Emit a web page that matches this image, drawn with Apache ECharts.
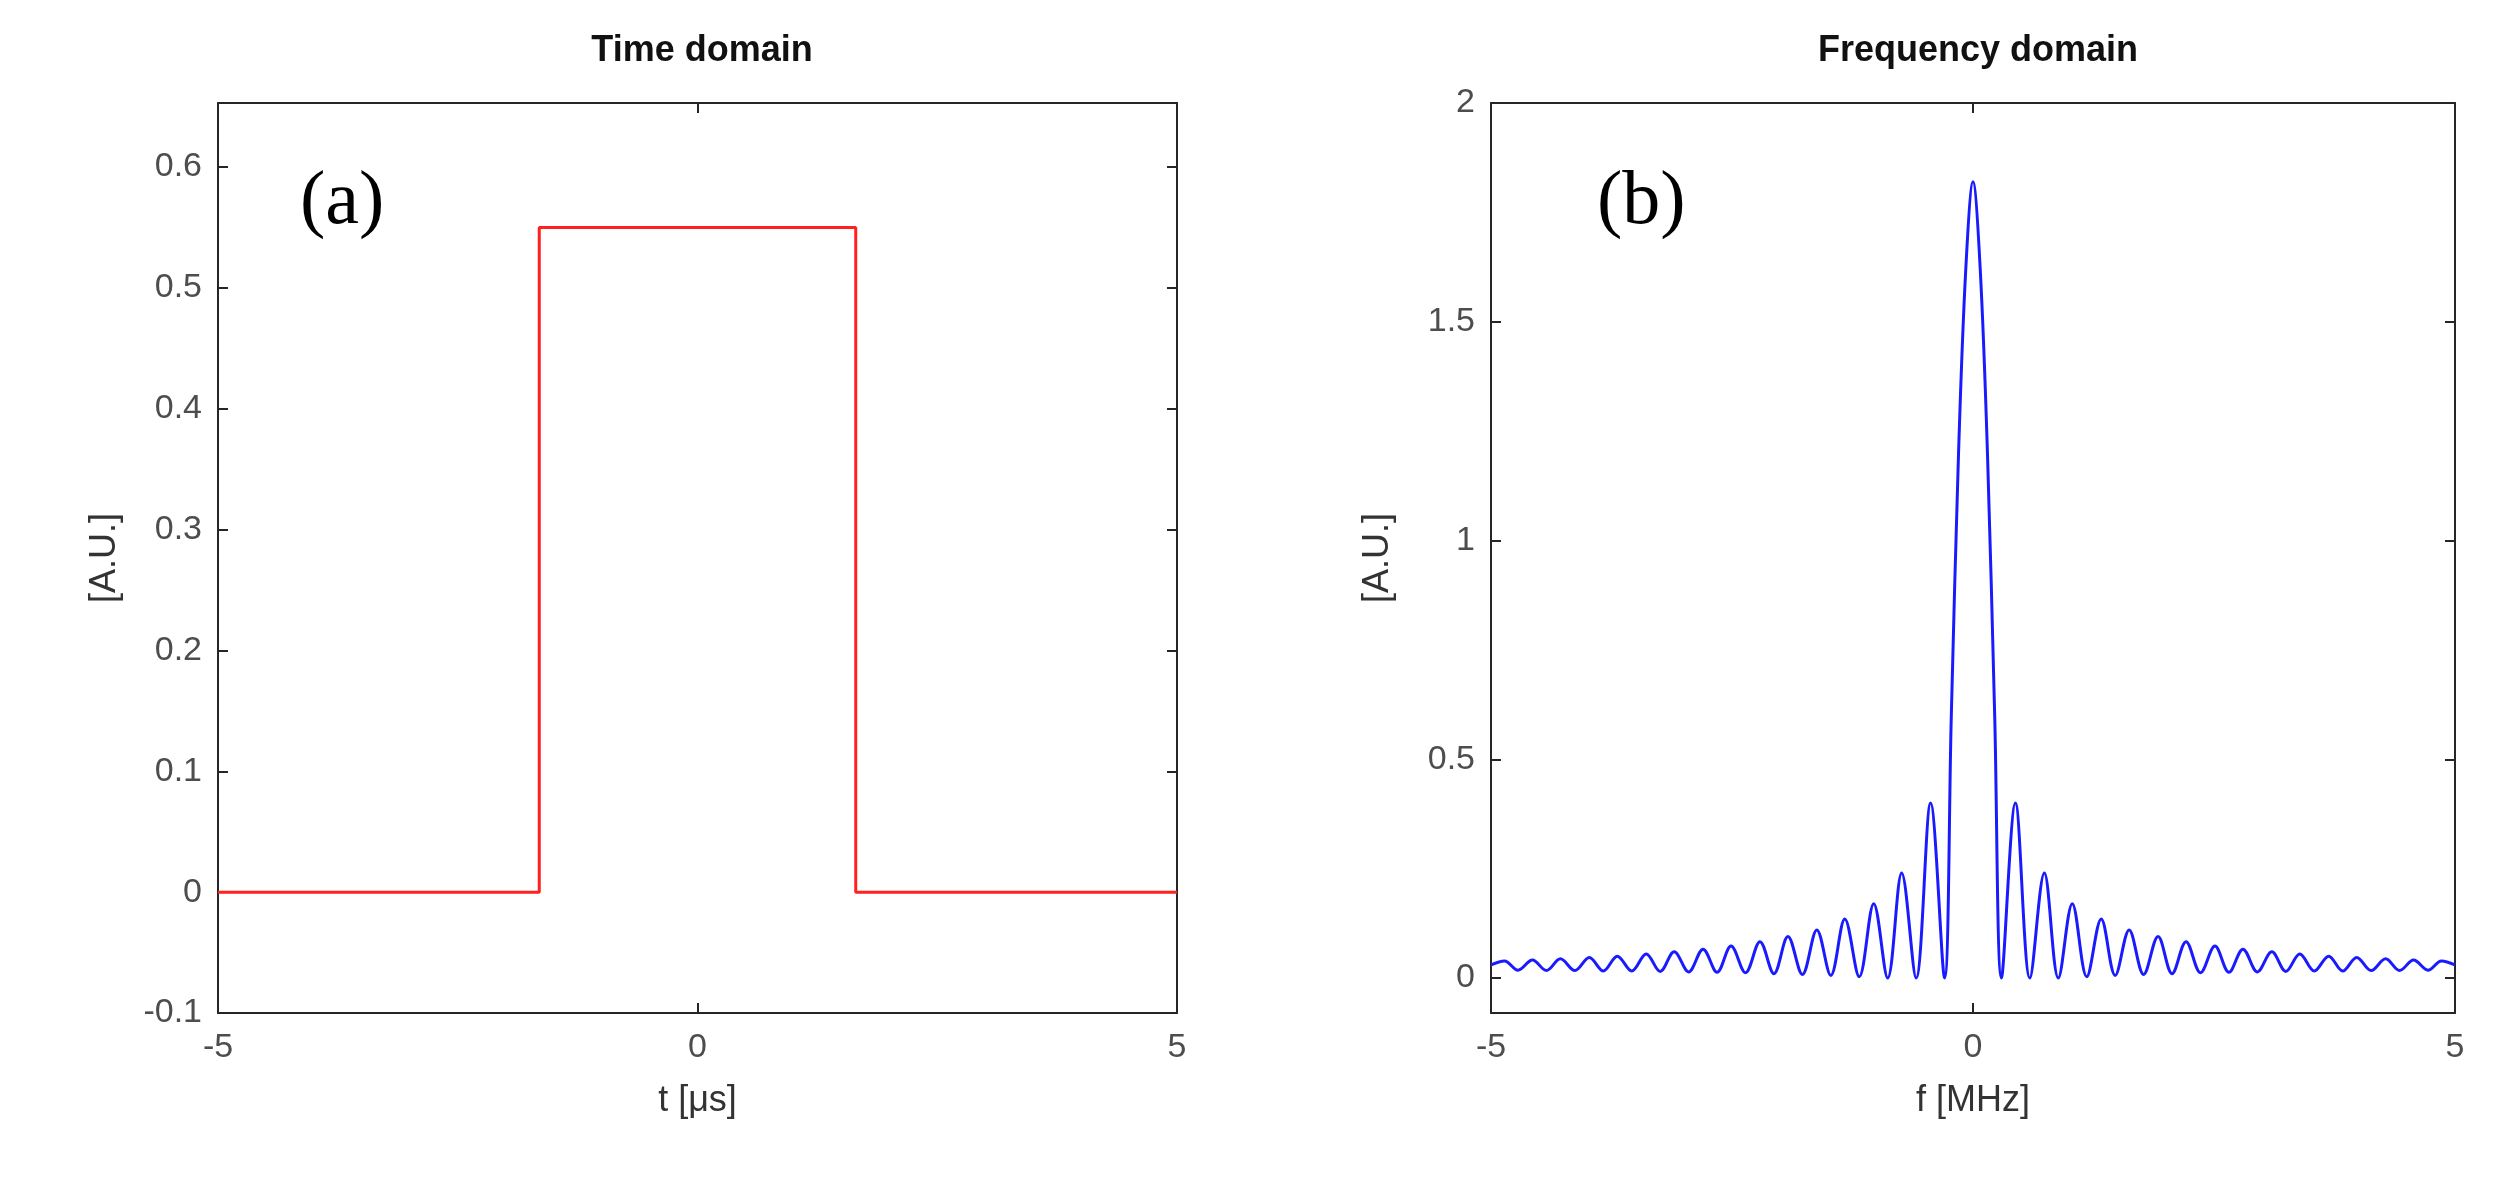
<!DOCTYPE html>
<html>
<head>
<meta charset="UTF-8">
<title>Time / Frequency domain</title>
<script src="https://cdn.jsdelivr.net/npm/echarts@6/dist/echarts.min.js"></script>
<style>
  html,body{margin:0;background:#fff;}
  #chart{width:2495px;height:1204px;}
</style>
</head>
<body>
<div id="chart"></div>
<script>
// time domain pulse (t in us, amplitude)
var pulseT = [-5, -1.65, -1.65, 1.65, 1.65, 5];
var pulseA = [0, 0, 0.55, 0.55, 0, 0];
var timeTicks = [-0.1, 0, 0.1, 0.2, 0.3, 0.4, 0.5, 0.6];

// frequency domain, positive half (f in MHz, |spectrum|)
var freqPos = [0, 0.075, 0.15, 0.225, 0.295, 0.44, 0.59, 0.74, 0.885, 1.03, 1.18, 1.33, 1.475, 1.62, 1.77,
  1.92, 2.065, 2.21, 2.36, 2.51, 2.655, 2.8, 2.95, 3.1, 3.245, 3.39, 3.54, 3.69, 3.835, 3.98, 4.13,
  4.28, 4.425, 4.57, 4.72, 4.86, 5.0];
var ampPos = [1.82, 1.62, 1.2, 0.6, 0, 0.40, 0, 0.24, 0, 0.17, 0.003, 0.135, 0.006, 0.11, 0.008,
  0.095, 0.01, 0.083, 0.012, 0.073, 0.013, 0.066, 0.014, 0.06, 0.015, 0.055, 0.016, 0.05, 0.016, 0.047, 0.017,
  0.044, 0.017, 0.041, 0.018, 0.039, 0.03];
var freqTicks = [0, 0.5, 1, 1.5, 2];
var xTicks = [-5, 0, 5];

var pulse = pulseT.map(function (t, i) { return [t, pulseA[i]]; });
var spec = [];
for (var i = freqPos.length - 1; i > 0; i--) spec.push([-freqPos[i], ampPos[i]]);
for (var j = 0; j < freqPos.length; j++) spec.push([freqPos[j], ampPos[j]]);

var lab = { color: '#4d4d4d', fontSize: 34, fontFamily: 'Liberation Sans, Arial' };
var axLine = { show: true, onZero: false, lineStyle: { color: '#262626', width: 2 } };
var tick = { show: true, inside: true, length: 10, lineStyle: { color: '#262626', width: 2 } };

function xAx(grid, name, top) {
  return {
    type: 'value', gridIndex: grid, min: -5, max: 5, position: top ? 'top' : 'bottom',
    name: top ? '' : name, nameLocation: 'middle', nameGap: 70,
    nameTextStyle: { color: '#333', fontSize: 36, fontFamily: 'Liberation Sans, Arial' },
    axisLine: axLine, splitLine: { show: false },
    axisTick: Object.assign({ customValues: xTicks }, tick),
    axisLabel: Object.assign({ show: !top, customValues: xTicks, margin: 18 }, lab)
  };
}
function yAx(grid, min, max, ticks, right) {
  return {
    type: 'value', gridIndex: grid, min: min, max: max, position: right ? 'right' : 'left',
    name: right ? '' : '[A.U.]', nameLocation: 'middle', nameGap: 95,
    nameTextStyle: { color: '#333', fontSize: 36, fontFamily: 'Liberation Sans, Arial' },
    axisLine: axLine, splitLine: { show: false },
    axisTick: Object.assign({ customValues: ticks }, tick),
    axisLabel: Object.assign({ show: !right, customValues: ticks, margin: 16 }, lab)
  };
}

var chart = echarts.init(document.getElementById('chart'));
chart.setOption({
  animation: false,
  title: [
    { text: 'Time domain', left: 697, top: 28, textAlign: 'center',
      textStyle: { fontSize: 36, fontWeight: 'bold', color: '#111', fontFamily: 'Liberation Sans, Arial' } },
    { text: 'Frequency domain', left: 1973, top: 28, textAlign: 'center',
      textStyle: { fontSize: 36, fontWeight: 'bold', color: '#111', fontFamily: 'Liberation Sans, Arial' } }
  ],
  grid: [
    { left: 218, top: 103, width: 959, height: 910 },
    { left: 1491, top: 103, width: 964, height: 910 }
  ],
  xAxis: [xAx(0, 't [\u03bcs]'), xAx(0, '', true), xAx(1, 'f [MHz]'), xAx(1, '', true)],
  yAxis: [yAx(0, -0.1, 0.653, timeTicks), yAx(0, -0.1, 0.653, timeTicks, true),
          yAx(1, -0.08, 2, freqTicks), yAx(1, -0.08, 2, freqTicks, true)],
  graphic: [
    { type: 'text', left: 300, top: 165, style: { text: '(a)', fontSize: 76, fontFamily: 'Liberation Serif, Times New Roman', fill: '#000' } },
    { type: 'text', left: 1597, top: 165, style: { text: '(b)', fontSize: 76, fontFamily: 'Liberation Serif, Times New Roman', fill: '#000' } }
  ],
  series: [
    { type: 'line', xAxisIndex: 0, yAxisIndex: 0, data: pulse, showSymbol: false,
      lineStyle: { color: '#ff2020', width: 3 } },
    { type: 'line', xAxisIndex: 2, yAxisIndex: 2, data: spec, showSymbol: false, smooth: 0.35,
      lineStyle: { color: '#1a1aff', width: 3 } }
  ]
});
</script>
</body>
</html>
